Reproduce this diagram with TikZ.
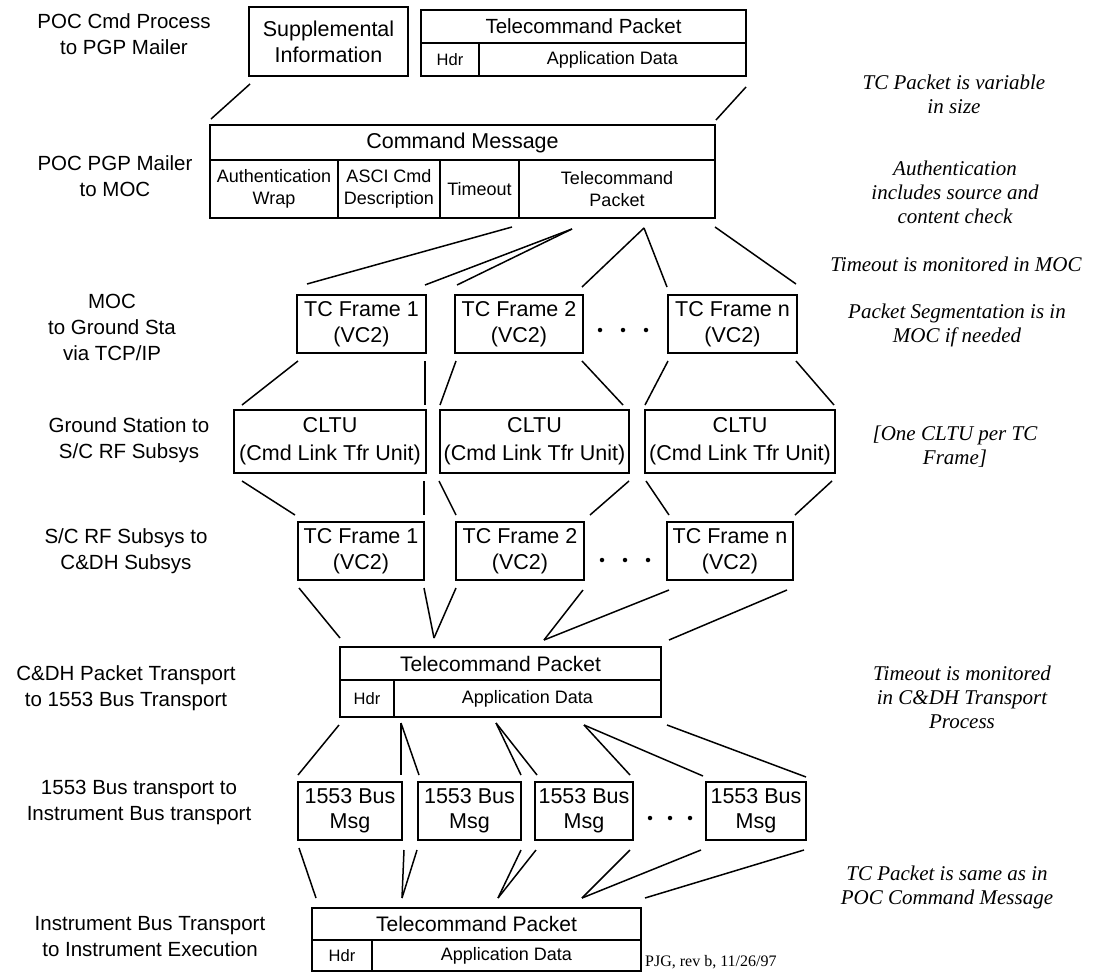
\documentclass[tikz,border=0pt]{standalone}
\usepackage{fontspec}
\setmainfont{Liberation Sans}
\newfontfamily\notefont{Liberation Serif}
\newcommand{\mkcell}[7][]{\node[cellbox,#1,minimum width={#5-#3},minimum height={#6-#4}] (#2) at ({(#3+#5)/2},{(#4+#6)/2}) {#7};}
\tikzset{
 cellbox/.style={draw, line width=1.3pt, inner sep=0pt, align=center, font=\fontsize{21.5}{26}\selectfont},
 sm/.style={font=\fontsize{18}{22}\selectfont},
 xs/.style={font=\fontsize{16.5}{20}\selectfont},
 lab/.style={align=center, font=\fontsize{20.5}{26}\selectfont, inner sep=0pt},
 note/.style={align=center, font=\notefont\itshape\fontsize{21}{24}\selectfont, inner sep=0pt},
 conn/.style={line width=1.5pt},
 dotn/.style={circle, fill, inner sep=0pt, minimum size=4.5pt},
}
\begin{document}
\begin{tikzpicture}[x=1pt,y=-1pt]
\fill[white] (0,0) rectangle (1096,980);
\useasboundingbox (0,0) rectangle (1096,980);

% ---------- left labels ----------
\node[lab] (l1) at (124,34) {POC Cmd Process\\to PGP Mailer};
\node[lab] (l2) at (115,176) {POC PGP Mailer\\to MOC};
\node[lab] (l3) at (112,327) {MOC\\to Ground Sta\\via TCP/IP};
\node[lab] (l4) at (129,440) {Ground Station to\\S/C RF Subsys};
\node[lab] (l5) at (126,551) {S/C RF Subsys to\\C\&DH Subsys};
\node[lab] (l6) at (126,688) {C\&DH Packet Transport\\to 1553 Bus Transport};
\node[lab] (l7) at (139,802) {1553 Bus transport to\\Instrument Bus transport};
\node[lab] (l8) at (150,937) {Instrument Bus Transport\\to Instrument Execution};

% ---------- right notes ----------
\node[note] (n1) at (954,94) {TC Packet is variable\\in size};
\node[note] (n2) at (955,192) {Authentication\\includes source and\\content check};
\node[note] (n3) at (956,264) {Timeout is monitored in MOC};
\node[note] (n4) at (957,325) {Packet Segmentation is in\\MOC if needed};
\node[note] (n5) at (955,447) {[One CLTU per TC\\Frame]};
\node[note] (n6) at (962,697) {Timeout is monitored\\in C\&DH  Transport\\Process};
\node[note] (n7) at (947,887) {TC Packet  is same as  in\\POC Command Message};
\node[font=\notefont\fontsize{16}{20}\selectfont, anchor=west, inner sep=0pt] (pjg) at (645,962) {PJG, rev b, 11/26/97};

% ---------- row 1 ----------
\mkcell{si}{249}{7}{408}{76}{Supplemental\\Information}
\mkcell[font=\fontsize{20.5}{26}\selectfont]{tpt}{421}{10}{746}{43}{Telecommand Packet}
\mkcell[xs]{tph}{421}{43}{479}{76}{Hdr}
\mkcell[sm]{tpa}{479}{43}{746}{76}{Application Data}

% ---------- command message ----------
\mkcell{cmt}{210}{125}{715}{160}{Command Message}
\mkcell[sm]{cmw}{210}{160}{338}{218}{Authentication\\Wrap}
\mkcell[sm]{cmd}{338}{160}{440}{218}{ASCI Cmd\\Description}
\mkcell[sm]{cmo}{440}{160}{519}{218}{Timeout}
\mkcell[sm]{cmp}{519}{160}{715}{218}{Telecommand\\Packet}

% ---------- TC frames row 1 ----------
\mkcell{f1}{297}{295}{426}{353}{TC Frame 1\\(VC2)}
\mkcell{f2}{455}{295}{583}{353}{TC Frame 2\\(VC2)}
\mkcell{fn}{668}{295}{797}{353}{TC Frame n\\(VC2)}
\node[dotn] (fd1) at (600,330) {};
\node[dotn] (fd2) at (623,330) {};
\node[dotn] (fd3) at (646,330) {};

% ---------- CLTU ----------
\mkcell[font=\fontsize{21.5}{28}\selectfont]{c1}{234}{410}{426}{473}{CLTU\\(Cmd Link Tfr Unit)}
\mkcell[font=\fontsize{21.5}{28}\selectfont]{c2}{440}{410}{629}{473}{CLTU\\(Cmd Link Tfr Unit)}
\mkcell[font=\fontsize{21.5}{28}\selectfont]{c3}{645}{410}{835}{473}{CLTU\\(Cmd Link Tfr Unit)}

% ---------- TC frames row 2 ----------
\mkcell{g1}{298}{522}{424}{580}{TC Frame 1\\(VC2)}
\mkcell{g2}{456}{522}{584}{580}{TC Frame 2\\(VC2)}
\mkcell{gn}{667}{522}{793}{580}{TC Frame n\\(VC2)}
\node[dotn] (gd1) at (602,560) {};
\node[dotn] (gd2) at (625,560) {};
\node[dotn] (gd3) at (648,560) {};

% ---------- middle packet ----------
\mkcell[font=\fontsize{21}{26}\selectfont]{mpt}{340}{647}{661}{680}{Telecommand Packet}
\mkcell[xs]{mph}{340}{680}{394}{717}{Hdr}
\mkcell[sm]{mpa}{394}{680}{661}{717}{Application Data}

% ---------- 1553 bus messages ----------
\mkcell[font=\fontsize{21.5}{25}\selectfont]{b1}{298}{782}{402}{840}{1553 Bus\\Msg}
\mkcell[font=\fontsize{21.5}{25}\selectfont]{b2}{418}{782}{521}{840}{1553 Bus\\Msg}
\mkcell[font=\fontsize{21.5}{25}\selectfont]{b3}{535}{782}{633}{840}{1553 Bus\\Msg}
\mkcell[font=\fontsize{21.5}{25}\selectfont]{bn}{706}{782}{806}{840}{1553 Bus\\Msg}
\node[dotn] (bd1) at (650,818) {};
\node[dotn] (bd2) at (670,818) {};
\node[dotn] (bd3) at (690,818) {};

% ---------- bottom packet ----------
\mkcell[font=\fontsize{21}{26}\selectfont]{bpt}{312}{908}{641}{940}{Telecommand Packet}
\mkcell[xs]{bph}{312}{940}{372}{971}{Hdr}
\mkcell[sm]{bpa}{372}{940}{641}{971}{Application Data}

% ---------- connector end points ----------
\coordinate (siL) at (250,84);  \coordinate (cmTL) at (211,119);
\coordinate (tpR) at (746,87);  \coordinate (cmTR) at (716,120);

\coordinate (cmA) at (512,227); \coordinate (cmB) at (572,229);
\coordinate (cmC) at (644,228); \coordinate (cmD) at (715,227);
\coordinate (f1a) at (307,284); \coordinate (f1b) at (425,285);
\coordinate (f2a) at (457,285); \coordinate (f2b) at (582,287);
\coordinate (fna) at (667,287); \coordinate (fnb) at (796,284);

\coordinate (f1c) at (298,361); \coordinate (c1a) at (242,405);
\coordinate (f1d) at (425,361); \coordinate (c1b) at (425,405);
\coordinate (f2c) at (456,361); \coordinate (c2a) at (440,405);
\coordinate (f2d) at (582,361); \coordinate (c2b) at (623,405);
\coordinate (fnc) at (668,361); \coordinate (c3a) at (645,405);
\coordinate (fnd) at (796,361); \coordinate (c3b) at (834,405);

\coordinate (c1c) at (242,481); \coordinate (g1a) at (295,515);
\coordinate (c1d) at (424,481); \coordinate (g1b) at (424,515);
\coordinate (c2c) at (439,481); \coordinate (g2a) at (456,515);
\coordinate (c2d) at (629,481); \coordinate (g2b) at (590,515);
\coordinate (c3c) at (646,481); \coordinate (gna) at (669,515);
\coordinate (c3d) at (832,481); \coordinate (gnb) at (795,515);

\coordinate (g1c) at (299,588); \coordinate (mpA) at (340,638);
\coordinate (g1d) at (424,588); \coordinate (mpB) at (434,638);
\coordinate (g2c) at (456,588);
\coordinate (g2d) at (583,590); \coordinate (mpC) at (544,640);
\coordinate (gnc) at (669,590);
\coordinate (gnd) at (787,590); \coordinate (mpD) at (669,640);

\coordinate (mpE) at (339,725); \coordinate (b1a) at (298,775);
\coordinate (mpF) at (401,723); \coordinate (b1b) at (401,775);
\coordinate (b2a) at (419,775);
\coordinate (mpG) at (496,723); \coordinate (b2b) at (521,775);
\coordinate (b3a) at (537,775);
\coordinate (mpH) at (584,725); \coordinate (b3b) at (630,775);
\coordinate (bna) at (703,776);
\coordinate (mpI) at (667,725); \coordinate (bnb) at (806,777);

\coordinate (b1c) at (299,848); \coordinate (bpA) at (316,898);
\coordinate (b1d) at (404,850); \coordinate (bpB) at (402,898);
\coordinate (b2c) at (417,850);
\coordinate (b2d) at (521,850); \coordinate (bpC) at (498,898);
\coordinate (b3c) at (536,850);
\coordinate (b3d) at (630,850); \coordinate (bpD) at (582,898);
\coordinate (bnc) at (701,850);
\coordinate (bnd) at (804,850); \coordinate (bpE) at (645,898);

% ---------- connectors ----------
\draw[conn] (siL) -- (cmTL);
\draw[conn] (tpR) -- (cmTR);

\draw[conn] (cmA) -- (f1a);
\draw[conn] (cmB) -- (f1b);
\draw[conn] (cmB) -- (f2a);
\draw[conn] (cmC) -- (f2b);
\draw[conn] (cmC) -- (fna);
\draw[conn] (cmD) -- (fnb);

\draw[conn] (f1c) -- (c1a);
\draw[conn] (f1d) -- (c1b);
\draw[conn] (f2c) -- (c2a);
\draw[conn] (f2d) -- (c2b);
\draw[conn] (fnc) -- (c3a);
\draw[conn] (fnd) -- (c3b);

\draw[conn] (c1c) -- (g1a);
\draw[conn] (c1d) -- (g1b);
\draw[conn] (c2c) -- (g2a);
\draw[conn] (c2d) -- (g2b);
\draw[conn] (c3c) -- (gna);
\draw[conn] (c3d) -- (gnb);

\draw[conn] (g1c) -- (mpA);
\draw[conn] (g1d) -- (mpB);
\draw[conn] (g2c) -- (mpB);
\draw[conn] (g2d) -- (mpC);
\draw[conn] (gnc) -- (mpC);
\draw[conn] (gnd) -- (mpD);

\draw[conn] (mpE) -- (b1a);
\draw[conn] (mpF) -- (b1b);
\draw[conn] (mpF) -- (b2a);
\draw[conn] (mpG) -- (b2b);
\draw[conn] (mpG) -- (b3a);
\draw[conn] (mpH) -- (b3b);
\draw[conn] (mpH) -- (bna);
\draw[conn] (mpI) -- (bnb);

\draw[conn] (b1c) -- (bpA);
\draw[conn] (b1d) -- (bpB);
\draw[conn] (b2c) -- (bpB);
\draw[conn] (b2d) -- (bpC);
\draw[conn] (b3c) -- (bpC);
\draw[conn] (b3d) -- (bpD);
\draw[conn] (bnc) -- (bpD);
\draw[conn] (bnd) -- (bpE);
\end{tikzpicture}
\end{document}
